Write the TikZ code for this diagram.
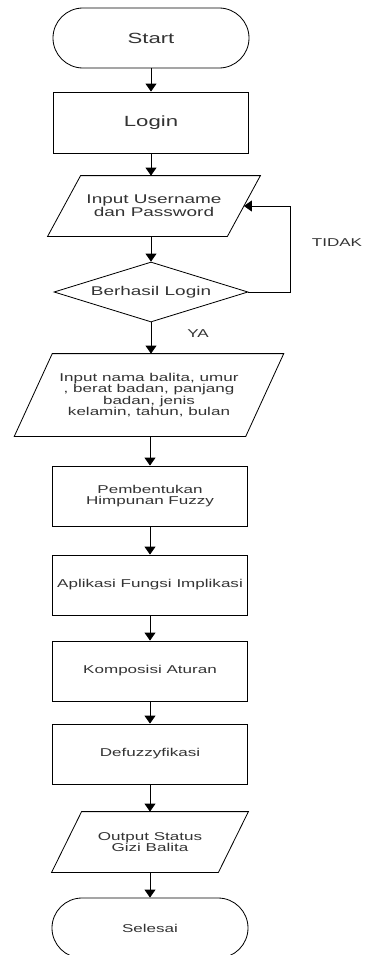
\documentclass[tikz,border=0pt]{standalone}
\usepackage{fontspec}
\setmainfont[FakeStretch=1.5]{Liberation Sans}
\usetikzlibrary{shapes.geometric,arrows.meta}

\tikzset{
  base/.style={draw=black, line width=0.7pt, text=black!80, align=center, inner sep=0pt},
  terminal/.style={base, rectangle, rounded corners=0.9cm, minimum width=5.88cm, minimum height=1.8cm},
  process/.style={base, rectangle, minimum width=5.85cm, minimum height=1.8cm},
  io/.style={base, draw=none, rectangle},
  decision/.style={base, diamond, aspect=3.23, minimum width=5.82cm, minimum height=1.8cm},
  arr/.style={line width=0.7pt, -{Triangle[length=2.4mm,width=3.3mm]}},
  big/.style={font=\fontsize{12.6}{13}\selectfont},
  mid/.style={font=\fontsize{10.8}{11}\selectfont},
  small/.style={font=\fontsize{9.7}{9.8}\selectfont},
}

\begin{document}
\begin{tikzpicture}[x=0.3mm, y=-0.3mm]
  \useasboundingbox (0,0) rectangle (367,955);
  %Nodes
  \node[terminal, big] (start) at (151,38) {Start};
  \node[process, big, minimum height=1.83cm] (login) at (151,122.5) {Login};
  \node[io, mid, minimum width=5.37cm, minimum height=1.8cm] (inuser) at (154,206) {Input Username\\dan Password};
  \node[decision, mid] (cek) at (151,292) {Berhasil Login};
  \node[io, small, minimum width=6.92cm, minimum height=2.46cm] (indata) at (149,395)
        {Input nama balita, umur\\, berat badan, panjang\\badan, jenis\\kelamin, tahun, bulan};
  \node[process, small] (bentuk) at (150,496) {Pembentukan\\Himpunan Fuzzy};
  \node[process, small] (aplikasi) at (150,585) {Aplikasi Fungsi Implikasi};
  \node[process, small] (komposisi) at (150,671) {Komposisi Aturan};
  \node[process, small] (defuzzy) at (150,754) {Defuzzyfikasi};
  \node[io, small, minimum width=4.98cm, minimum height=1.8cm] (output) at (150,842) {Output Status\\Gizi Balita};
  \node[terminal, small] (selesai) at (150,928) {Selesai};
  %Parallelograms
  \foreach \n/\s in {inuser/16.5, indata/19, output/15}
    \draw[line width=0.7pt] ([xshift=\s*0.3mm]\n.north west) -- ([xshift=\s*0.3mm]\n.north east)
      -- ([xshift=-\s*0.3mm]\n.south east) -- ([xshift=-\s*0.3mm]\n.south west) -- cycle;
  %Labels
  \node[small, text=black!80] (tidak) at (337,243) {TIDAK};
  \node[small, text=black!80] (ya) at (198,334) {YA};
  %Arrows
  \draw[arr] (start) -- (login);
  \draw[arr] (login) -- (login |- inuser.north);
  \draw[arr] (cek |- inuser.south) -- (cek.north);
  \draw[arr] (cek) -- (cek |- indata.north);
  \draw[arr] (indata.south -| bentuk) -- (bentuk);
  \draw[arr] (bentuk) -- (aplikasi);
  \draw[arr] (aplikasi) -- (komposisi);
  \draw[arr] (komposisi) -- (defuzzy);
  \draw[arr] (defuzzy) -- (output);
  \draw[arr] (output) -- (selesai);
  %Loop
  \draw[arr] (cek.east) -- ++(42,0) |- (inuser.east);
\end{tikzpicture}
\end{document}
